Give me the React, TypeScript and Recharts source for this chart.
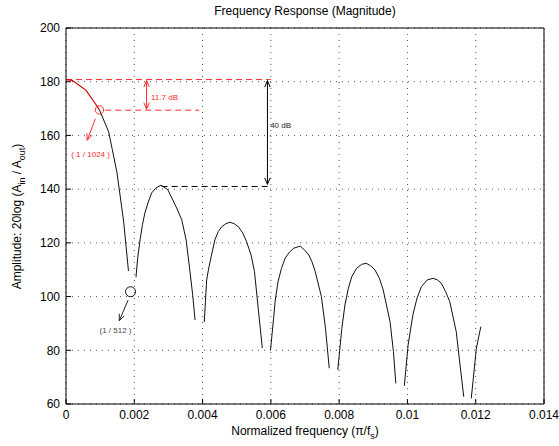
import { LineChart, Line, XAxis, YAxis, CartesianGrid, ReferenceLine, ReferenceDot } from 'recharts';

const FONT = "'Liberation Sans', Arial, Helvetica, sans-serif";
const RED = '#ff2a2a';
const CURVE_RED = '#d40000';

const xTicks = [0, 0.002, 0.004, 0.006, 0.008, 0.01, 0.012, 0.014];
const yTicks = [60, 80, 100, 120, 140, 160, 180, 200];

// passband part (drawn red) up to 1/1024
const redFreq = [0, 0.00018, 0.00059, 0.00086, 0.00098];
const redMag = [180.8, 180.5, 176.8, 171.8, 169.5];

// rest of the response, null = -Inf at the zeros (gaps)
const blackFreq = [
  0.00098, 0.00125, 0.00135, 0.00149, 0.00159, 0.00169, 0.00183, 0.00195,
  0.00205, 0.0021, 0.00217, 0.00224, 0.00231, 0.00241, 0.00251, 0.00263, 0.00278, 0.00298, 0.0031, 0.00324, 0.00339, 0.00352, 0.00363, 0.00371, 0.00378, 0.0039,
  0.00405, 0.00412, 0.00417, 0.00422, 0.00436, 0.00446, 0.00456, 0.00468, 0.0048, 0.00493, 0.00505, 0.00518, 0.00529, 0.00542, 0.00552, 0.00563, 0.00575, 0.00586,
  0.00599, 0.00608, 0.00613, 0.00621, 0.00631, 0.00642, 0.00654, 0.00667, 0.00686, 0.00699, 0.00711, 0.00721, 0.0073, 0.00748, 0.0076, 0.00771, 0.00781,
  0.00796, 0.00808, 0.00817, 0.00827, 0.00837, 0.00851, 0.00866, 0.00879, 0.00892, 0.00905, 0.00918, 0.00929, 0.00949, 0.00959, 0.00966, 0.00977,
  0.00991, 0.01002, 0.01016, 0.01028, 0.01041, 0.01058, 0.01075, 0.01088, 0.01099, 0.01112, 0.01124, 0.01143, 0.01153, 0.01165, 0.01172,
  0.01187, 0.01202, 0.01215,
];
const blackMag = [
  169.5, 161.3, 155.1, 146.4, 137.1, 127.8, 109.5, null,
  107.2, 114.4, 121.2, 126.8, 131.1, 135.2, 138.6, 140.4, 141.5, 139.8, 136.7, 133, 128.6, 121, 109.4, 100.7, 91.3, null,
  90.5, 106.2, 109.9, 113, 121.1, 124.2, 126, 127.1, 127.7, 127.1, 126, 123.6, 120.4, 115.5, 109.3, 95.6, 80.8, null,
  80.1, 91.9, 98.7, 105.5, 110.5, 114.3, 116.5, 118, 118.8, 117.3, 115.5, 112.8, 109.3, 100, 88.2, 73.3, null,
  72.7, 88.2, 96.9, 103.1, 107.4, 110.5, 112, 112.4, 111.5, 109.9, 106.8, 102.5, 90.7, 79.5, 67.7, null,
  66.8, 82, 93.2, 99.4, 103.7, 106.2, 106.8, 106.2, 105, 101.8, 98.1, 86.9, 75.7, 62.7, null,
  62.1, 80.8, 88.8,
];

const redData = redFreq.map((f, i) => ({ f, mag: redMag[i] }));
const blackData = blackFreq.map((f, i) => ({ f, mag: blackMag[i] }));

const fmtX = (v: number) => String(+v.toFixed(3));

// line with open V arrow heads
const arrow = (color: string, both: boolean) => (p: any) => {
  const { x1, y1, x2, y2 } = p;
  const a = Math.atan2(y2 - y1, x2 - x1);
  const head = (x: number, y: number, ang: number) => {
    const l = 7, w = 0.4;
    return `M${x - l * Math.cos(ang - w)},${y - l * Math.sin(ang - w)} L${x},${y} L${x - l * Math.cos(ang + w)},${y - l * Math.sin(ang + w)}`;
  };
  return (
    <g>
      <line x1={x1} y1={y1} x2={x2} y2={y2} stroke={color} strokeWidth={1} />
      <path d={head(x2, y2, a)} stroke={color} fill="none" strokeWidth={1} />
      {both && <path d={head(x1, y1, a + Math.PI)} stroke={color} fill="none" strokeWidth={1} />}
    </g>
  );
};

const note = (txt: string, color: string, anchor: 'start' | 'middle') => (p: any) => (
  <text x={p.cx} y={p.cy} dy="0.35em" fill={color} fontSize={8} fontFamily={FONT} textAnchor={anchor}>
    {txt}
  </text>
);

const sub = { fontSize: 9, position: 'relative' as const, top: 4 };

const App = () => (
  <div style={{ position: 'absolute', left: 0, top: 0, width: 559, height: 446, background: '#fff', fontFamily: FONT }}>
    <LineChart width={559} height={446} margin={{ top: 27, right: 14, bottom: 0, left: 0 }}>
      <CartesianGrid stroke="#555" strokeDasharray="1 5" />
      <XAxis
        dataKey="f"
        type="number"
        domain={[0, 0.014]}
        ticks={xTicks}
        tickFormatter={fmtX}
        height={42}
        tickSize={-5}
        tickMargin={11}
        axisLine={{ stroke: '#000' }}
        tickLine={{ stroke: '#000' }}
        tick={{ fill: '#000', fontSize: 12, fontFamily: FONT }}
        allowDataOverflow
      />
      <XAxis
        xAxisId="top"
        orientation="top"
        type="number"
        domain={[0, 0.014]}
        ticks={xTicks}
        height={1}
        tickSize={-5}
        tick={false}
        axisLine={{ stroke: '#000' }}
        tickLine={{ stroke: '#000' }}
      />
      <YAxis
        type="number"
        domain={[60, 200]}
        ticks={yTicks}
        width={66}
        tickSize={-5}
        tickMargin={11}
        axisLine={{ stroke: '#000' }}
        tickLine={{ stroke: '#000' }}
        tick={{ fill: '#000', fontSize: 12, fontFamily: FONT }}
        allowDataOverflow
      />
      <YAxis
        yAxisId="right"
        orientation="right"
        type="number"
        domain={[60, 200]}
        ticks={yTicks}
        width={1}
        tickSize={-5}
        tick={false}
        axisLine={{ stroke: '#000' }}
        tickLine={{ stroke: '#000' }}
      />

      {/* dashed guides */}
      <ReferenceLine segment={[{ x: 0, y: 180.8 }, { x: 0.006, y: 180.8 }]} stroke={RED} strokeDasharray="6 4" />
      <ReferenceLine segment={[{ x: 0.00115, y: 169.4 }, { x: 0.0039, y: 169.4 }]} stroke={RED} strokeDasharray="6 4" />
      <ReferenceLine segment={[{ x: 0.0028, y: 141 }, { x: 0.006, y: 141 }]} stroke="#000" strokeDasharray="6 4" />

      <Line data={blackData} dataKey="mag" type="linear" stroke="#111" strokeWidth={1} dot={false} connectNulls={false} isAnimationActive={false} />
      <Line data={redData} dataKey="mag" type="linear" stroke={CURVE_RED} strokeWidth={1.2} dot={false} isAnimationActive={false} />

      {/* arrows */}
      <ReferenceLine segment={[{ x: 0.00236, y: 180.4 }, { x: 0.00236, y: 169.8 }]} shape={arrow(RED, true)} />
      <ReferenceLine segment={[{ x: 0.0059, y: 180.4 }, { x: 0.0059, y: 141.8 }]} shape={arrow('#000', true)} />
      <ReferenceLine segment={[{ x: 0.00086, y: 166.2 }, { x: 0.00062, y: 158.2 }]} shape={arrow(RED, false)} />
      <ReferenceLine segment={[{ x: 0.00182, y: 98.7 }, { x: 0.00156, y: 91 }]} shape={arrow('#222', false)} />

      {/* markers */}
      <ReferenceDot x={0.00098} y={169.5} r={4.2} fill="none" stroke={RED} strokeWidth={1} />
      <ReferenceDot x={0.00189} y={101.8} r={5} fill="none" stroke="#111" strokeWidth={1} />

      {/* notes */}
      <ReferenceDot x={0.00249} y={174.3} r={0} shape={note('11.7 dB', RED, 'start')} />
      <ReferenceDot x={0.00598} y={163.9} r={0} shape={note('40 dB', '#222', 'start')} />
      <ReferenceDot x={0.00072} y={153.1} r={0} shape={note('( 1 / 1024 )', RED, 'middle')} />
      <ReferenceDot x={0.00145} y={87.6} r={0} shape={note('(1 / 512 )', '#444', 'middle')} />
    </LineChart>

    <div style={{ position: 'absolute', left: 66, width: 478, top: 4, textAlign: 'center', fontSize: 12, lineHeight: '14px' }}>
      Frequency Response (Magnitude)
    </div>
    <div style={{ position: 'absolute', left: 66, width: 478, top: 424, textAlign: 'center', fontSize: 12, lineHeight: '14px' }}>
      Normalized frequency (π/f<span style={sub}>s</span>)
    </div>
    <div
      style={{
        position: 'absolute',
        left: 17 - 150,
        top: 216 - 7,
        width: 300,
        textAlign: 'center',
        fontSize: 12,
        lineHeight: '14px',
        transform: 'rotate(-90deg)',
      }}
    >
      Amplitude: 20log (A<span style={sub}>in</span> / A<span style={sub}>out</span>)
    </div>
  </div>
);

export default App;
